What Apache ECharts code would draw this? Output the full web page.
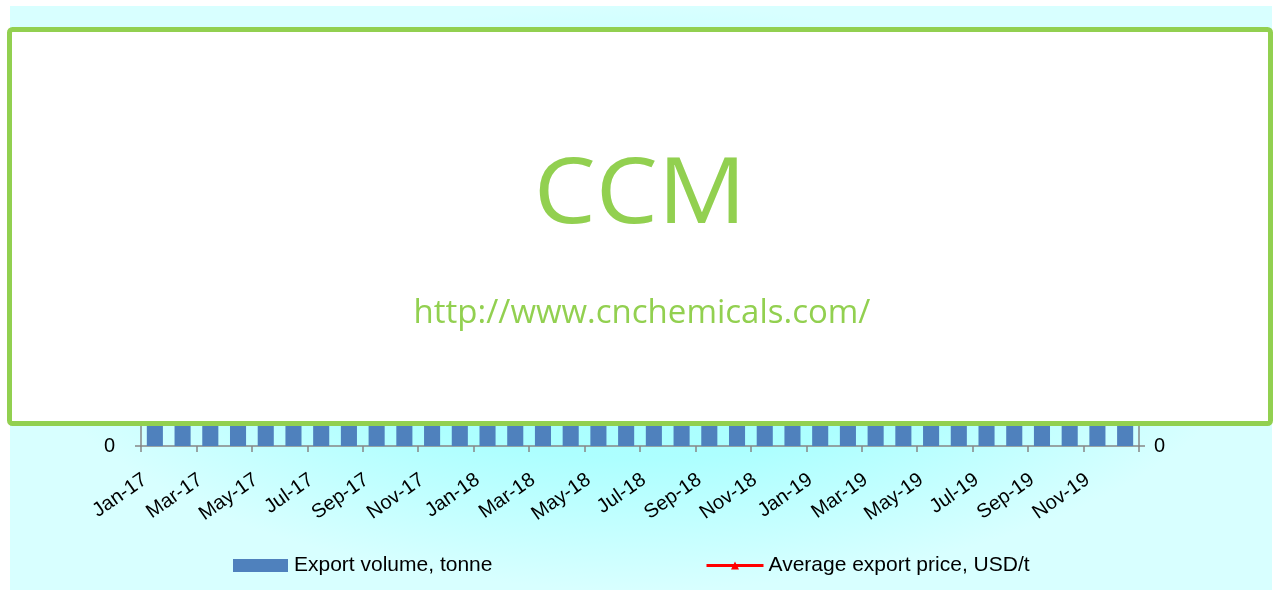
<!DOCTYPE html>
<html>
<head>
<meta charset="utf-8">
<script src="https://cdn.jsdelivr.net/npm/echarts@6/dist/echarts.min.js"></script>
<style>
html,body{margin:0;padding:0;background:#ffffff;}
#chart{width:1278px;height:592px;}
</style>
</head>
<body>
<div id="chart"></div>
<script>
// ---- data ----
var months = ['Jan-17','Feb-17','Mar-17','Apr-17','May-17','Jun-17','Jul-17','Aug-17','Sep-17','Oct-17','Nov-17','Dec-17',
              'Jan-18','Feb-18','Mar-18','Apr-18','May-18','Jun-18','Jul-18','Aug-18','Sep-18','Oct-18','Nov-18','Dec-18',
              'Jan-19','Feb-19','Mar-19','Apr-19','May-19','Jun-19','Jul-19','Aug-19','Sep-19','Oct-19','Nov-19','Dec-19'];
var exportVolume = [1120, 860, 1340, 1210, 1450, 1280, 1390, 1520, 1180, 1310, 1460, 1600,
                    1250, 980, 1420, 1370, 1510, 1440, 1350, 1480, 1290, 1400, 1550, 1620,
                    1300, 1010, 1380, 1460, 1530, 1400, 1470, 1360, 1250, 1390, 1480, 1570];
var exportPrice = [2650, 2680, 2620, 2590, 2610, 2640, 2700, 2760, 2820, 2880, 2910, 2950,
                   2980, 3020, 2990, 2960, 2940, 2900, 2870, 2850, 2830, 2800, 2780, 2760,
                   2740, 2720, 2700, 2690, 2670, 2660, 2650, 2640, 2620, 2610, 2600, 2590];
var seriesNames = ['Export volume, tonne', 'Average export price, USD/t'];
var watermarkTitle = 'CCM';
var watermarkUrl = 'http://www.cnchemicals.com/';

var FONT = '"Liberation Sans", Arial, sans-serif';
var AXIS_GRAY = '#868686';
var GREEN = '#92d050';

var chart = echarts.init(document.getElementById('chart'), null, {renderer: 'canvas'});

var option = {
  backgroundColor: '#ffffff',
  animation: false,
  textStyle: {fontFamily: FONT},
  grid: {left: 141, right: 139, top: 60, bottom: 146, containLabel: false},
  legend: [
    {
      data: [seriesNames[0]],
      left: 233, top: 555, padding: 0,
      itemWidth: 55, itemHeight: 13, itemGap: 6,
      icon: 'rect',
      textStyle: {fontFamily: FONT, fontSize: 21, color: '#000', padding: [0, 0, 0, 1]}
    },
    {
      data: [seriesNames[1]],
      left: 705, top: 555, padding: 0,
      itemWidth: 57, itemHeight: 10, itemGap: 4,
      lineStyle: {width: 3, color: '#ff0000'},
      textStyle: {fontFamily: FONT, fontSize: 21, color: '#000'}
    }
  ],
  xAxis: {
    type: 'category',
    data: months,
    boundaryGap: true,
    axisLine: {show: true, lineStyle: {color: AXIS_GRAY, width: 1.5}},
    axisTick: {show: true, interval: 1, length: 6, lineStyle: {color: AXIS_GRAY, width: 1.5}},
    axisLabel: {interval: 1, rotate: 35, margin: 25, padding: [0, 12, 0, 0], fontSize: 20, color: '#000', fontFamily: FONT},
    splitLine: {show: false}
  },
  yAxis: [
    {
      type: 'value', min: 0, max: 2000, interval: 400,
      axisLine: {show: true, lineStyle: {color: AXIS_GRAY, width: 1.5}},
      axisTick: {show: true, length: 6, lineStyle: {color: AXIS_GRAY, width: 1.5}},
      axisLabel: {margin: 26, fontSize: 20, color: '#000', fontFamily: FONT},
      splitLine: {show: false}
    },
    {
      type: 'value', min: 0, max: 3500, interval: 700,
      position: 'right',
      axisLine: {show: true, lineStyle: {color: AXIS_GRAY, width: 1.5}},
      axisTick: {show: true, length: 6, lineStyle: {color: AXIS_GRAY, width: 1.5}},
      axisLabel: {margin: 15, fontSize: 20, color: '#000', fontFamily: FONT},
      splitLine: {show: false}
    }
  ],
  series: [
    {
      name: seriesNames[0],
      type: 'bar',
      data: exportVolume,
      yAxisIndex: 0,
      barCategoryGap: '42%',
      itemStyle: {color: '#4f81bd'}
    },
    {
      name: seriesNames[1],
      type: 'line',
      data: exportPrice,
      yAxisIndex: 1,
      symbol: 'triangle',
      symbolSize: 9,
      lineStyle: {color: '#ff0000', width: 3},
      itemStyle: {color: '#ff0000'}
    }
  ],
  graphic: [
    {
      type: 'rect',
      x: 10, y: 6,
      scaleY: 584 / 1262,
      shape: {x: 0, y: 0, width: 1262, height: 1262},
      style: {
        fill: new echarts.graphic.RadialGradient(0.5, 0.5, 0.5, [
          {offset: 0, color: '#a4ffff'},
          {offset: 0.55, color: '#adffff'},
          {offset: 1, color: '#d8ffff'}
        ])
      },
      silent: true,
      z: -10
    },
    {
      type: 'rect',
      shape: {x: 9.5, y: 29.5, width: 1261, height: 394, r: 3},
      style: {fill: '#ffffff', stroke: GREEN, lineWidth: 5},
      silent: true,
      z: 100
    },
    {
      type: 'text',
      x: 640, y: 197,
      scaleX: 1.07,
      style: {
        text: watermarkTitle,
        fill: GREEN,
        font: '92px "Open Sans", sans-serif',
        align: 'center',
        verticalAlign: 'middle'
      },
      silent: true,
      z: 101
    },
    {
      type: 'text',
      x: 642, y: 314,
      style: {
        text: watermarkUrl,
        fill: GREEN,
        font: '33px "Open Sans", sans-serif',
        align: 'center',
        verticalAlign: 'middle'
      },
      silent: true,
      z: 101
    }
  ]
};

chart.setOption(option);
</script>
</body>
</html>
